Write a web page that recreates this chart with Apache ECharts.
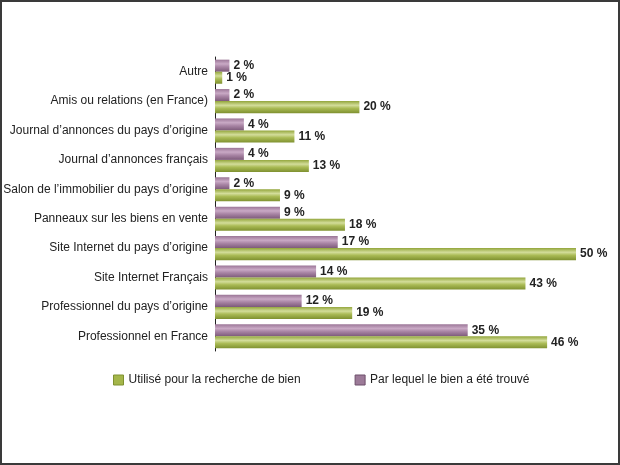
<!DOCTYPE html>
<html>
<head>
<meta charset="utf-8">
<script src="https://cdn.jsdelivr.net/npm/echarts@6/dist/echarts.min.js"></script>
<style>
html,body{margin:0;padding:0;background:#fff;}
#frame{position:absolute;left:0;top:0;width:616px;height:461px;border:2px solid #3a3a3a;background:#fff;}
#chart{position:absolute;left:0;top:0;width:620px;height:465px;}
</style>
</head>
<body>
<div id="frame"></div>
<div id="chart"></div>
<script>
const categories = [
  "Autre",
  "Amis ou relations (en France)",
  "Journal d\u2019annonces du pays d\u2019origine",
  "Journal d\u2019annonces français",
  "Salon de l\u2019immobilier du pays d\u2019origine",
  "Panneaux sur les biens en vente",
  "Site Internet du pays d\u2019origine",
  "Site Internet Français",
  "Professionnel du pays d\u2019origine",
  "Professionnel en France"
];
const trouve = [2, 2, 4, 4, 2, 9, 17, 14, 12, 35];
const recherche = [1, 20, 11, 13, 9, 18, 50, 43, 19, 46];
const seriesNames = ["Utilisé pour la recherche de bien", "Par lequel le bien a été trouvé"];

const purpleGrad = new echarts.graphic.LinearGradient(0, 0, 0, 1, [
  {offset: 0, color: '#9b7697'},
  {offset: 0.35, color: '#c9a9c5'},
  {offset: 0.6, color: '#a985a5'},
  {offset: 1, color: '#7d5a7a'}
]);
const greenGrad = new echarts.graphic.LinearGradient(0, 0, 0, 1, [
  {offset: 0, color: '#93a63c'},
  {offset: 0.35, color: '#d3dd9a'},
  {offset: 0.6, color: '#aabb55'},
  {offset: 1, color: '#7f9130'}
]);

const chart = echarts.init(document.getElementById('chart'), null, {renderer: 'canvas'});
const labelStyle = {
  show: true, position: 'right', distance: 4,
  formatter: p => p.value + ' %',
  fontFamily: 'Liberation Sans, Arial, sans-serif',
  fontSize: 12, fontWeight: 'bold', color: '#222'
};
chart.setOption({
  animation: false,
  textStyle: {fontFamily: 'Liberation Sans, Arial, sans-serif'},
  grid: {left: 215, right: 44, top: 57, height: 294, containLabel: false},
  legend: {
    bottom: 74, left: 108, itemGap: 54,
    itemWidth: 10, itemHeight: 10, icon: 'rect',
    textStyle: {fontSize: 12, color: '#222', fontFamily: 'Liberation Sans, Arial, sans-serif'},
    data: [
      {name: seriesNames[0], itemStyle: {color: '#a4b64a', borderColor: '#7f9130', borderWidth: 1}},
      {name: seriesNames[1], itemStyle: {color: '#9c7a98', borderColor: '#6d4f6a', borderWidth: 1}}
    ]
  },
  xAxis: {
    type: 'value', min: 0, max: 50, interval: 10,
    axisLine: {show: false}, axisTick: {show: false},
    axisLabel: {show: false}, splitLine: {show: false}
  },
  yAxis: {
    type: 'category', data: categories, inverse: true,
    axisLine: {show: true, lineStyle: {color: '#222', width: 1}},
    axisTick: {show: false},
    axisLabel: {fontSize: 12, color: '#222', margin: 7, fontFamily: 'Liberation Sans, Arial, sans-serif'}
  },
  series: [
    {
      name: seriesNames[1], type: 'bar', data: trouve,
      barCategoryGap: '18%', barGap: '0%',
      itemStyle: {color: purpleGrad},
      label: labelStyle
    },
    {
      name: seriesNames[0], type: 'bar', data: recherche,
      barCategoryGap: '18%', barGap: '0%',
      itemStyle: {color: greenGrad},
      label: labelStyle
    }
  ]
});
</script>
</body>
</html>
